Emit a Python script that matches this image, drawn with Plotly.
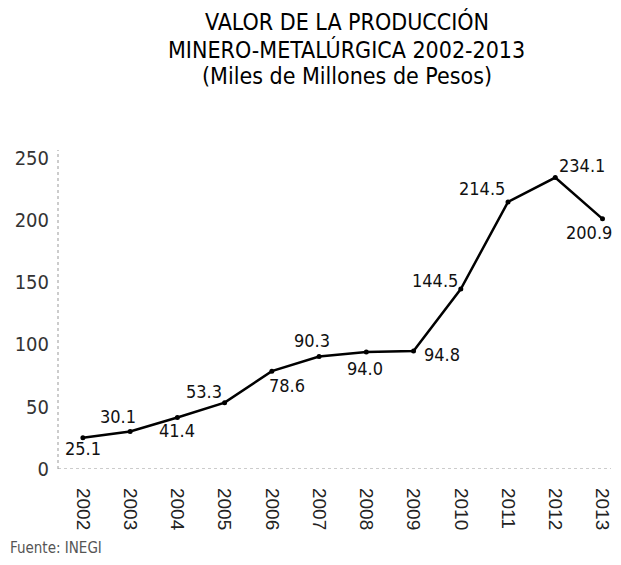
import plotly.graph_objects as go

years = ["2002", "2003", "2004", "2005", "2006", "2007", "2008", "2009", "2010", "2011", "2012", "2013"]
values = [25.1, 30.1, 41.4, 53.3, 78.6, 90.3, 94.0, 94.8, 144.5, 214.5, 234.1, 200.9]
value_labels = ["25.1", "30.1", "41.4", "53.3", "78.6", "90.3", "94.0", "94.8", "144.5", "214.5", "234.1", "200.9"]
y_ticks = [0, 50, 100, 150, 200, 250]

# label offsets in pixels (layout only)
label_dx = [0, -12, 0, -21, 15, -7, -1, 28, -26, -26, 27, -14]
label_dy = [-11, 15, -13, 11, -14, 16, -17, -4, 9, 13, 12, -14]

NARROW = "Liberation Sans Narrow, DejaVu Sans Condensed, Arial Narrow, sans-serif"

# page body has an 8px margin; compensate and stay inside the visible area
OFF = 8
L, T = 58 - OFF, 150 - OFF
W, H = 621 - 2 * OFF, 565 - 2 * OFF
PLOT_R = W
PLOT_B = 469 - OFF
PW, PH = PLOT_R - L, PLOT_B - T


def px_x(px):
    return (px - OFF - L) / PW


def px_y(py):
    return (PLOT_B - (py - OFF)) / PH


fig = go.Figure()
fig.add_trace(go.Scatter(
    x=list(range(len(years))), y=values, mode="lines+markers",
    line=dict(color="black", width=2.5),
    marker=dict(color="black", size=5),
    hoverinfo="skip", showlegend=False, cliponaxis=False,
))

for i, (v, t) in enumerate(zip(values, value_labels)):
    fig.add_annotation(x=i, y=v, text=t, showarrow=False,
                       xshift=label_dx[i], yshift=label_dy[i],
                       font=dict(family=NARROW, size=18, color="#111"))

# dotted axes
fig.add_shape(type="line", xref="paper", yref="y", x0=0, x1=1, y0=0, y1=0,
              line=dict(color="#999", width=1, dash="dot"))
fig.add_shape(type="line", xref="paper", yref="paper", x0=0, x1=0, y0=0, y1=1,
              line=dict(color="#999", width=1, dash="dot"))

title_lines = ["VALOR DE LA PRODUCCIÓN", "MINERO-METALÚRGICA 2002-2013", "(Miles de Millones de Pesos)"]
title_py = [22, 49, 76]
for line, py in zip(title_lines, title_py):
    fig.add_annotation(xref="paper", yref="paper", x=px_x(348), y=px_y(py),
                       text=line, showarrow=False, xanchor="center", yanchor="middle",
                       font=dict(family=NARROW, size=23, color="black"))

fig.add_annotation(xref="paper", yref="paper", x=px_x(8), y=px_y(548),
                   text="Fuente: INEGI", showarrow=False, xanchor="left", yanchor="middle",
                   font=dict(family=NARROW, size=15, color="#555"))

fig.update_xaxes(
    tickmode="array", tickvals=list(range(len(years))), ticktext=years,
    range=[-0.527, 11.18], tickangle=90, showgrid=False, zeroline=False, showline=False,
    ticks="", ticklabelstandoff=18, ticklabeloverflow="allow",
    tickfont=dict(family="Liberation Sans, Arial, sans-serif", size=19, color="#222"),
)
fig.update_yaxes(
    tickmode="array", tickvals=y_ticks, range=[0, 256.2],
    showgrid=False, zeroline=False, showline=False, ticks="", ticklabelstandoff=8,
    tickfont=dict(family=NARROW, size=20, color="#333"),
)
fig.update_layout(
    width=W, height=H,
    margin=dict(l=L, r=W - PLOT_R, t=T, b=H - PLOT_B),
    paper_bgcolor="white", plot_bgcolor="white",
)
fig.write_html("out.html")
